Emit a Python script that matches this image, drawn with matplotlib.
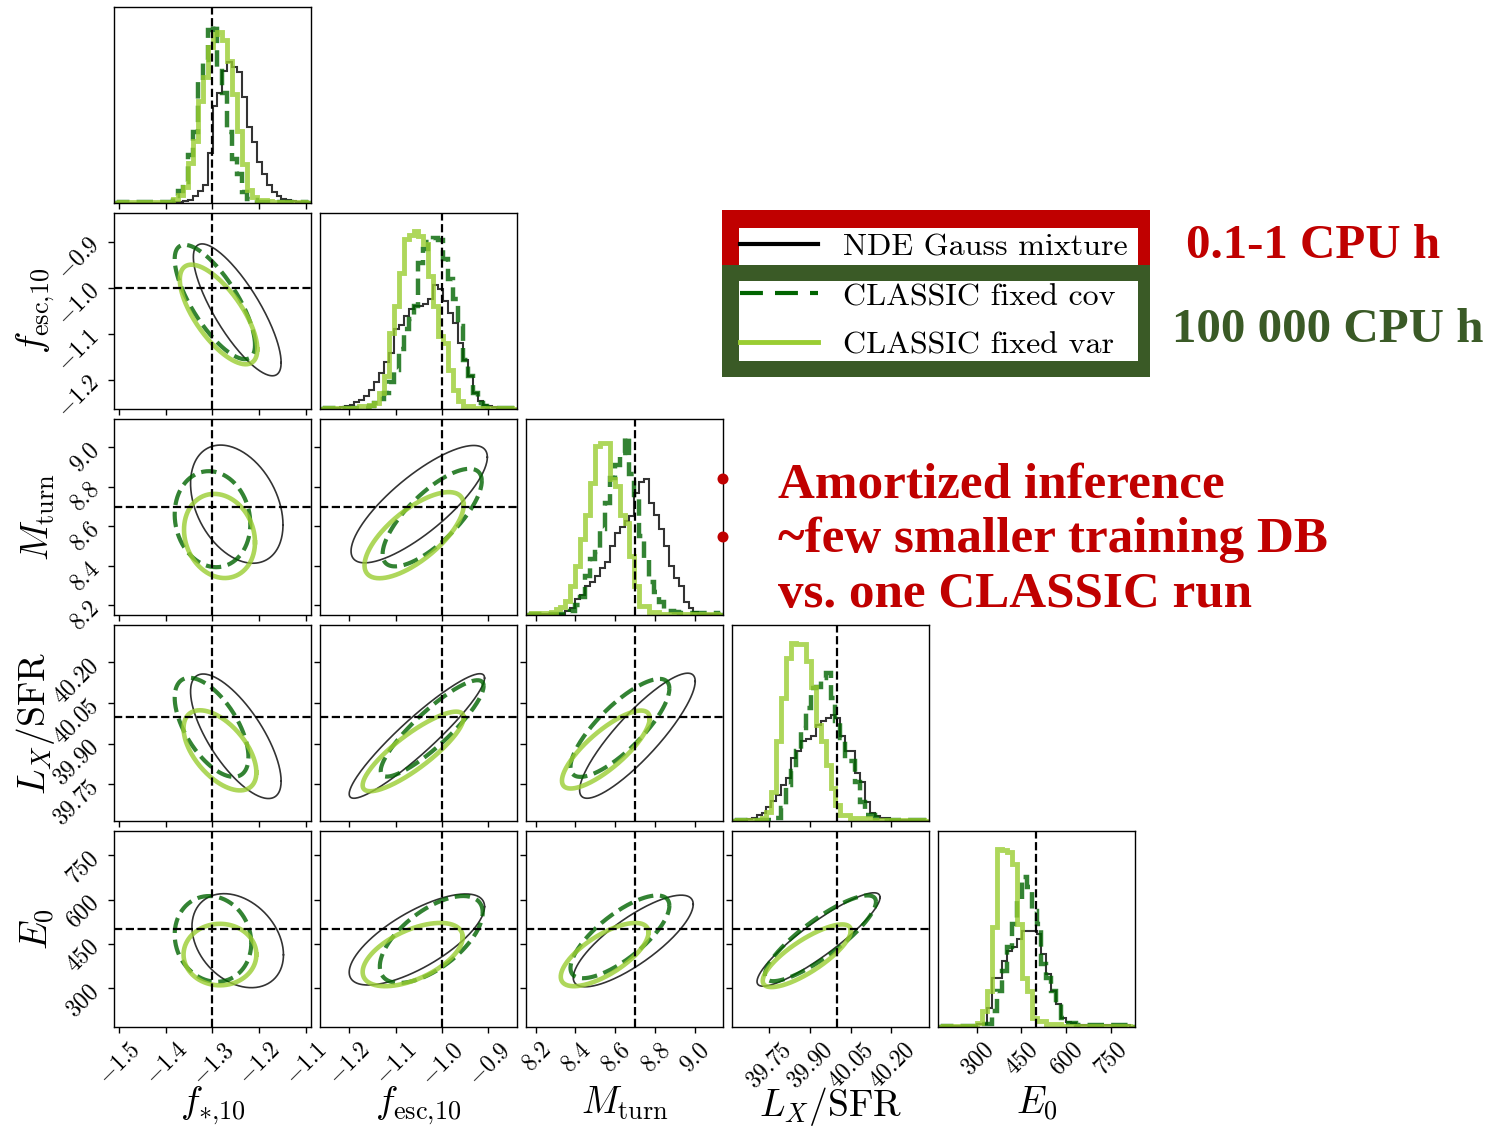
import numpy as np
import matplotlib
matplotlib.use("Agg")
import matplotlib.pyplot as plt
from matplotlib.patches import Rectangle, Circle

plt.rcParams["mathtext.fontset"] = "cm"

# parameters of the corner plot
PARAM_LABELS = [r"$f_{*{,}10}$", r"$f_{\rm esc{,}10}$", r"$M_{\rm turn}$",
                r"$L_X/{\rm SFR}$", r"$E_0$"]
AXIS_RANGES = [(-1.511, -1.089), (-1.263, -0.838), (8.151, 9.143),
               (39.614, 40.338), (169.0, 832.0)]
TRUTHS = [-1.3, -1.0, 8.7, 40.0, 500.0]
TICKS = [[-1.5, -1.4, -1.3, -1.2, -1.1],
         [-1.2, -1.1, -1.0, -0.9],
         [8.2, 8.4, 8.6, 8.8, 9.0],
         [39.75, 39.90, 40.05, 40.20],
         [300, 450, 600, 750]]
TICK_LABELS = [[r"$-1.5$", r"$-1.4$", r"$-1.3$", r"$-1.2$", r"$-1.1$"],
               [r"$-1.2$", r"$-1.1$", r"$-1.0$", r"$-0.9$"],
               [r"$8.2$", r"$8.4$", r"$8.6$", r"$8.8$", r"$9.0$"],
               [r"$39.75$", r"$39.90$", r"$40.05$", r"$40.20$"],
               [r"$300$", r"$450$", r"$600$", r"$750$"]]

SERIES_NAMES = ["NDE Gauss mixture", "CLASSIC fixed cov", "CLASSIC fixed var"]

# 1D marginals, 40 bins over each axis range
HIST_NDE = [
    [0, 0, 0, 0, 0, 0, 0, 0, 0, 0, 0, 0, 2, 3, 5, 8, 20, 35, 55, 150,
     293, 330, 398, 423, 410, 393, 318, 228, 185, 123, 88, 55, 32, 22, 12, 8, 5, 3, 2, 0],
    [0, 2, 3, 3, 5, 8, 13, 20, 28, 40, 58, 80, 108, 140, 168, 238, 250, 278, 300, 308,
     308, 315, 330, 370, 360, 323, 288, 258, 198, 148, 98, 48, 23, 12, 8, 5, 4, 3, 2, 0],
    [0, 3, 3, 3, 3, 3, 3, 3, 13, 20, 48, 60, 88, 100, 118, 140, 158, 208, 248, 265,
     283, 298, 368, 400, 408, 338, 300, 258, 208, 148, 110, 88, 38, 20, 10, 4, 4, 4, 4, 0],
    [0, 3, 3, 5, 8, 18, 25, 43, 60, 78, 108, 130, 188, 208, 238, 245, 253, 288, 300, 308,
     318, 308, 253, 208, 208, 143, 118, 58, 23, 15, 10, 8, 4, 4, 4, 4, 4, 4, 4, 0],
    [0, 3, 3, 3, 3, 3, 3, 3, 8, 8, 58, 148, 148, 198, 228, 240, 263, 288, 288, 288,
     278, 218, 158, 108, 68, 28, 15, 13, 5, 5, 5, 5, 5, 5, 5, 5, 5, 5, 5, 0],
]
HIST_COV = [
    [0, 3, 3, 3, 3, 3, 3, 3, 3, 3, 3, 3, 20, 35, 63, 143, 213, 370, 430, 520,
     536, 410, 330, 213, 133, 88, 33, 13, 8, 3, 3, 3, 3, 3, 3, 3, 3, 3, 2, 0],
    [0, 3, 3, 3, 3, 3, 3, 3, 3, 3, 8, 18, 30, 48, 80, 118, 178, 238, 270, 308,
     438, 478, 500, 513, 505, 448, 388, 328, 248, 148, 98, 48, 18, 8, 4, 4, 4, 4, 3, 0],
    [0, 4, 4, 4, 4, 4, 4, 4, 8, 13, 30, 53, 118, 168, 190, 258, 338, 413, 450, 488,
     536, 423, 348, 238, 168, 98, 70, 38, 13, 13, 8, 5, 5, 5, 5, 5, 5, 5, 5, 0],
    [0, 4, 4, 4, 4, 4, 4, 4, 4, 8, 38, 108, 150, 208, 278, 338, 398, 400, 428, 443,
     368, 298, 248, 178, 178, 118, 58, 18, 18, 8, 4, 4, 4, 4, 4, 4, 4, 4, 4, 0],
    [0, 3, 3, 3, 3, 3, 3, 3, 3, 8, 8, 48, 108, 168, 238, 308, 378, 448, 420, 348,
     308, 188, 148, 108, 68, 28, 13, 13, 5, 5, 5, 5, 5, 5, 5, 5, 5, 5, 5, 0],
]
HIST_VAR = [
    [0, 3, 3, 3, 3, 3, 3, 3, 3, 3, 3, 3, 13, 25, 48, 120, 188, 308, 380, 470,
     508, 513, 490, 428, 328, 218, 118, 38, 18, 8, 8, 5, 3, 3, 3, 3, 3, 3, 2, 0],
    [0, 3, 3, 3, 3, 3, 3, 3, 8, 8, 13, 18, 48, 100, 228, 308, 408, 508, 520, 533,
     518, 493, 398, 308, 218, 198, 118, 58, 23, 8, 8, 3, 3, 3, 3, 3, 3, 3, 2, 0],
    [0, 5, 5, 5, 5, 8, 18, 25, 43, 88, 148, 228, 300, 398, 508, 518, 518, 408, 388, 300,
     278, 178, 88, 28, 28, 10, 10, 4, 4, 4, 4, 4, 4, 4, 4, 4, 4, 4, 4, 0],
    [0, 3, 3, 3, 3, 3, 10, 28, 88, 238, 368, 488, 533, 530, 528, 478, 400, 288, 238, 168,
     98, 48, 18, 18, 8, 8, 8, 8, 4, 4, 4, 4, 4, 4, 4, 4, 4, 4, 4, 0],
    [0, 2, 2, 2, 2, 2, 2, 2, 13, 48, 108, 300, 533, 528, 523, 488, 308, 148, 108, 28,
     18, 18, 8, 8, 8, 4, 4, 4, 4, 4, 4, 4, 4, 4, 4, 4, 4, 4, 4, 0],
]

# 2D credible contours: (row, col) panel pairs and (x0, y0, half-width, half-height, corr)
PAIRS = [(1, 0), (2, 0), (2, 1), (3, 0), (3, 1), (3, 2), (4, 0), (4, 1), (4, 2), (4, 3)]
CONTOUR_NDE = [
    (-1.247, -1.048, 0.094, 0.143, -0.80),
    (-1.248, 8.712, 0.099, 0.299, -0.35),
    (-1.049, 8.712, 0.147, 0.297, 0.80),
    (-1.250, 39.927, 0.097, 0.230, -0.72),
    (-1.054, 39.928, 0.146, 0.230, 0.93),
    (8.712, 39.929, 0.291, 0.231, 0.87),
    (-1.246, 461.0, 0.098, 159.0, -0.30),
    (-1.054, 465.0, 0.146, 154.0, 0.72),
    (8.691, 460.0, 0.302, 155.0, 0.80),
    (39.932, 465.0, 0.226, 158.0, 0.90),
]
CONTOUR_COV = [
    (-1.295, -1.031, 0.086, 0.124, -0.75),
    (-1.300, 8.636, 0.081, 0.243, -0.10),
    (-1.021, 8.644, 0.107, 0.247, 0.75),
    (-1.302, 39.960, 0.079, 0.183, -0.60),
    (-1.021, 39.956, 0.111, 0.178, 0.88),
    (8.624, 39.958, 0.249, 0.181, 0.80),
    (-1.299, 467.0, 0.082, 145.0, -0.10),
    (-1.023, 465.0, 0.111, 147.0, 0.62),
    (8.624, 474.0, 0.249, 140.0, 0.75),
    (39.939, 469.0, 0.204, 145.0, 0.85),
]
CONTOUR_VAR = [
    (-1.287, -1.058, 0.083, 0.108, -0.70),
    (-1.285, 8.551, 0.076, 0.213, -0.15),
    (-1.060, 8.555, 0.107, 0.218, 0.70),
    (-1.284, 39.875, 0.078, 0.148, -0.55),
    (-1.062, 39.871, 0.109, 0.147, 0.85),
    (8.553, 39.878, 0.221, 0.144, 0.80),
    (-1.284, 414.0, 0.078, 104.0, 0.00),
    (-1.063, 414.0, 0.108, 107.0, 0.55),
    (8.547, 414.0, 0.221, 107.0, 0.70),
    (39.889, 410.0, 0.162, 106.0, 0.80),
]

RED = "#c00000"
DARK_GREEN = "#3a5a26"

STYLES = [
    dict(color="black", hist_lw=1.5, cont_lw=1.2, ls="-", legend_ls="-"),
    dict(color="darkgreen", hist_lw=3.2, cont_lw=3.0, ls="--",
         legend_ls=(0, (5.5, 2.9))),
    dict(color="yellowgreen", hist_lw=3.5, cont_lw=3.3, ls="-", legend_ls="-"),
]

FIG_W, FIG_H = 1486, 1131
PANEL_X0, PANEL_Y0, PANEL_STEP = 114, 7, 206
PANEL_W, PANEL_H = 197, 196


def panel_rect(row, col):
    left = (PANEL_X0 + PANEL_STEP * col) / FIG_W
    bottom = 1 - (PANEL_Y0 + PANEL_STEP * row + PANEL_H) / FIG_H
    return [left, bottom, PANEL_W / FIG_W, PANEL_H / FIG_H]


def ellipse_points(cx, cy, hx, hy, rho, n=240):
    t = np.linspace(0, 2 * np.pi, n)
    x = cx + hx * np.cos(t)
    y = cy + hy * (rho * np.cos(t) + np.sqrt(1 - rho ** 2) * np.sin(t))
    return x, y


def style_axes(ax, row, col):
    ax.set_xlim(AXIS_RANGES[col])
    ax.set_xticks(TICKS[col])
    if row == 4:
        ax.set_xticklabels(TICK_LABELS[col], rotation=45)
        ax.set_xlabel(PARAM_LABELS[col], fontsize=27)
        ax.xaxis.set_label_coords(0.5, -0.295)
    else:
        ax.set_xticklabels([])

    if row == col:
        ax.set_yticks([])
    else:
        ax.set_ylim(AXIS_RANGES[row])
        ax.set_yticks(TICKS[row])
        if col == 0:
            ax.set_yticklabels(TICK_LABELS[row], rotation=45)
            ax.set_ylabel(PARAM_LABELS[row], fontsize=27)
            ax.yaxis.set_label_coords(-0.29, 0.5)
        else:
            ax.set_yticklabels([])

    ax.tick_params(direction="out", length=4, width=1, labelsize=17)
    for spine in ax.spines.values():
        spine.set_linewidth(1.0)


def draw_corner(fig):
    hists = [HIST_NDE, HIST_COV, HIST_VAR]
    contours = [CONTOUR_NDE, CONTOUR_COV, CONTOUR_VAR]

    for k in range(5):
        ax = fig.add_axes(panel_rect(k, k))
        lo, hi = AXIS_RANGES[k]
        edges = np.linspace(lo, hi, len(HIST_NDE[k]) + 1)
        top = 0
        for hist, st in zip(hists, STYLES):
            ax.stairs(hist[k], edges, color=st["color"], lw=st["hist_lw"],
                      ls=st["ls"], alpha=0.8)
            top = max(top, max(hist[k]))
        ax.set_ylim(0, 1.1 * top)
        ax.axvline(TRUTHS[k], color="black", ls="--", lw=1.6)
        style_axes(ax, k, k)

    for p, (row, col) in enumerate(PAIRS):
        ax = fig.add_axes(panel_rect(row, col))
        for cont, st in zip(contours, STYLES):
            x, y = ellipse_points(*cont[p])
            ax.plot(x, y, color=st["color"], lw=st["cont_lw"], ls=st["ls"],
                    alpha=0.8)
        ax.axvline(TRUTHS[col], color="black", ls="--", lw=1.6)
        ax.axhline(TRUTHS[row], color="black", ls="--", lw=1.6)
        style_axes(ax, row, col)


def draw_annotations(fig):
    ov = fig.add_axes([0, 0, 1, 1], zorder=10)
    ov.set_xlim(0, FIG_W)
    ov.set_ylim(FIG_H, 0)
    ov.axis("off")
    ov.patch.set_alpha(0)

    # framed legend: red block for the NDE, green block for CLASSIC
    ov.add_patch(Rectangle((722, 210), 428, 56, facecolor=RED, lw=0))
    ov.add_patch(Rectangle((739, 228), 399, 38, facecolor="white", lw=0))
    ov.add_patch(Rectangle((722, 265), 428, 112, facecolor=DARK_GREEN, lw=0))
    ov.add_patch(Rectangle((739, 281), 399, 80, facecolor="white", lw=0))

    rows_y = [244, 293, 342]
    base_y = [256, 305, 353]
    handle_lw = [3.0, 3.0, 3.5]
    for name, st, ly, by, hw in zip(SERIES_NAMES, STYLES, rows_y, base_y, handle_lw):
        ov.plot([740, 818], [ly, ly], color=st["color"], lw=hw, ls=st["legend_ls"])
        ov.text(843, by, name, fontfamily="cmr10", fontsize=23, va="baseline")

    ov.text(1186, 258, "0.1-1 CPU h", color=RED, fontfamily="Liberation Serif",
            fontweight="bold", fontsize=35.3, va="baseline")
    ov.text(1172, 342, "100 000 CPU h", color=DARK_GREEN,
            fontfamily="Liberation Serif", fontweight="bold", fontsize=35.3,
            va="baseline")

    bullets = ["Amortized inference", "~few smaller training DB",
               "vs. one CLASSIC run"]
    for text, by in zip(bullets, [497, 552, 607]):
        ov.text(778, by, text, color=RED, fontfamily="Liberation Serif",
                fontweight="bold", fontsize=36.8, va="baseline")
    for cy in [479, 537]:
        ov.add_patch(Circle((723, cy), 5.5, color=RED, lw=0))


def main():
    fig = plt.figure(figsize=(FIG_W / 100, FIG_H / 100), dpi=100)
    draw_corner(fig)
    draw_annotations(fig)
    fig.savefig("out.png", dpi=100)


if __name__ == "__main__":
    main()
